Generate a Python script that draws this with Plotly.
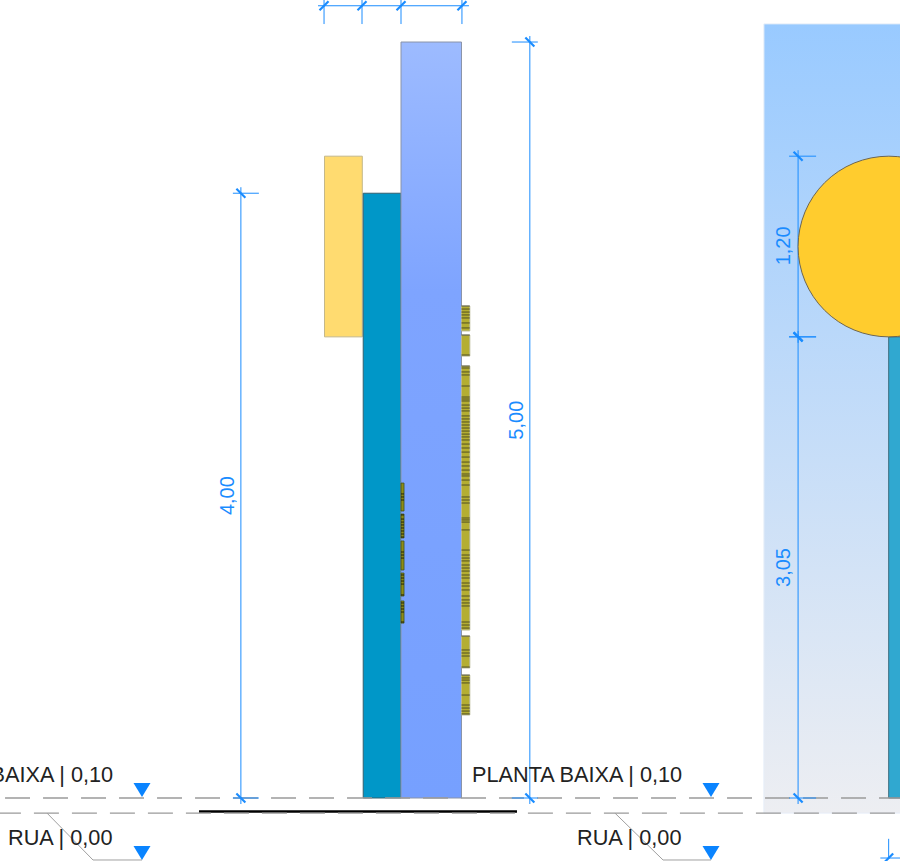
import plotly.graph_objects as go

# ---- drawing data, in metres (x from the wall face, y = level) ----
wall_x, wall_y = [0.0, 0.40], [0.10, 5.10]
slab_x, slab_y = [-0.25, 0.0], [0.10, 4.10]
sign_x, sign_y = [-0.506, -0.256], [3.15, 4.345]
panel_x, panel_y = [2.40, 3.40], [0.00, 5.22]
column_x, column_y = [3.225, 3.50], [0.10, 3.15]
disc_x, disc_y = [2.626, 3.826], [3.15, 4.345]
ground_x, ground_y = [-1.336, 0.767], [0.011, 0.011]

louvre_r_x = [0.40, 0.455]
louvre_r_segments = [(3.354, 3.189), (3.162, 3.023), (2.957, 1.211), (1.171, 0.960), (0.913, 0.649)]
louvre_r_slats = [3.354, 3.334, 3.314, 3.295, 3.275, 3.242, 3.209, 3.162, 3.030, 2.957, 2.944, 2.918, 2.898,
                  2.825, 2.752, 2.739, 2.726, 2.699, 2.679, 2.660, 2.627, 2.607, 2.587, 2.567, 2.547, 2.527,
                  2.507, 2.488, 2.468, 2.441, 2.415, 2.388, 2.355, 2.322, 2.296, 2.269, 2.243, 2.230, 2.203,
                  2.170, 2.091, 2.071, 2.051, 1.952, 1.939, 1.925, 1.873, 1.740, 1.707, 1.687, 1.668, 1.641,
                  1.621, 1.601, 1.575, 1.555, 1.522, 1.502, 1.476, 1.436, 1.410, 1.390, 1.370, 1.264, 1.244,
                  1.224, 1.171, 1.079, 1.059, 1.039, 0.966, 0.913, 0.894, 0.880, 0.861, 0.781, 0.715, 0.695,
                  0.675, 0.656]
louvre_l_x = [0.0, 0.02]
louvre_l_segments = [(2.183, 1.998), (1.978, 1.820), (1.800, 1.608), (1.588, 1.436), (1.403, 1.257)]
louvre_l_slats = [2.111, 2.091, 2.071, 1.972, 1.945, 1.925, 1.906, 1.886, 1.866, 1.846, 1.826, 1.727, 1.707,
                  1.687, 1.575, 1.555, 1.535, 1.515, 1.443, 1.390, 1.370, 1.350, 1.330, 1.264]

level_y = [0.10, 0.00]
level_dash_start = [-2.870, -2.679]
level_labels = ["PLANTA BAIXA | 0,10", "RUA | 0,00"]
label_right_x = [-1.892, 1.872]
label_y = [0.258, -0.159]
marker_x = [-1.713, 2.050]
marker_tip_y = [0.107, -0.310]
leader_x = [[-2.341, -2.037, -1.713], [1.415, 1.733, 2.050]]
leader_y = [0.0, -0.310, -0.310]

v_dims = [(-1.059, 0.10, 4.10, "4,00", -8, 18, -1.154, 2.10),
          (0.852, 0.10, 5.10, "5,00", -18, 8, 0.758, 2.60),
          (2.626, 0.10, 3.15, "3,05", -9, 18, 2.526, 1.628),
          (2.626, 3.15, 4.345, "1,20", -9, 18, 2.526, 3.755)]
h_dim_x = [-0.509, -0.258, 0.0, 0.403]
h_dim_y = 5.34
h_dim_ext_bottom = 5.219

PX = 1 / 151.2
BLUE = "#1A8CFF"
fig = go.Figure()


def box(xs, ys):
    return [xs[0], xs[1], xs[1], xs[0], xs[0]], [ys[0], ys[0], ys[1], ys[1], ys[0]]


def add_poly(xs, ys, fill=None, line=None, width=1, grad=None):
    kw = dict(x=xs, y=ys, mode="lines", fill="toself", showlegend=False, hoverinfo="skip",
              line=dict(color=line or "rgba(0,0,0,0)", width=width if line else 0))
    if grad:
        kw["fillgradient"] = grad
    else:
        kw["fillcolor"] = fill
    fig.add_trace(go.Scatter(**kw))


def add_line(xs, ys, color, width, dash=None):
    fig.add_trace(go.Scatter(x=xs, y=ys, mode="lines", showlegend=False, hoverinfo="skip",
                             line=dict(color=color, width=width, dash=dash)))


# panel + column + disc
px_, py_ = box(panel_x, panel_y)
add_poly(px_, py_, line="#E6EEF8", width=1,
         grad=dict(type="vertical", start=panel_y[1], stop=panel_y[0],
                   colorscale=[[0, "#99CAFF"], [1, "#EDEEF2"]]))
px_, py_ = box(column_x, column_y)
add_poly(px_, py_, fill="#30A8D0", line="#3F6F80", width=1)
fig.add_shape(type="circle", x0=disc_x[0], x1=disc_x[1], y0=disc_y[0], y1=disc_y[1],
              fillcolor="#FFCC2E", line=dict(color="#6E6650", width=1))

# section
px_, py_ = box(sign_x, sign_y)
add_poly(px_, py_, fill="#FFDB70", line="#C4B88A", width=1)
px_, py_ = box(slab_x, slab_y)
add_poly(px_, py_, fill="#0097C8", line="#33606F", width=1)
px_, py_ = box(wall_x, wall_y)
add_poly(px_, py_, line="#8A93A8", width=1,
         grad=dict(type="vertical", start=wall_y[1], stop=wall_y[0],
                   colorscale=[[0, "#9DBBFF"], [0.33, "#7EA4FF"], [1, "#76A0FF"]]))

# louvres
for top, bot in louvre_r_segments:
    px_, py_ = box(louvre_r_x, (bot, top))
    add_poly(px_, py_, fill="#B4AE32", line="#B8B894", width=1)
xs, ys = [], []
for s in louvre_r_slats:
    xs += [louvre_r_x[0], louvre_r_x[1], None]
    ys += [s, s, None]
add_line(xs, ys, "rgba(50,50,30,0.75)", 1)

for top, bot in louvre_l_segments:
    px_, py_ = box(louvre_l_x, (bot, top))
    add_poly(px_, py_, fill="#8E8C14", line="#40501E", width=0.8)
xs, ys = [], []
for s in louvre_l_slats:
    xs += [louvre_l_x[0], louvre_l_x[1], None]
    ys += [s, s, None]
add_line(xs, ys, "rgba(20,20,10,0.85)", 1)

# ground and levels
add_line(ground_x, ground_y, "#000000", 2.5)
for yv, xs0 in zip(level_y, level_dash_start):
    add_line([xs0, panel_x[1] + 0.2], [yv, yv], "#9A9A9A", 1.3, dash="25px,13px")
for lx in leader_x:
    add_line(lx, leader_y, "#A0A0A0", 1)
for mx in marker_x:
    for tip in marker_tip_y:
        add_poly([mx - 8.5 * PX, mx + 8.5 * PX, mx, mx - 8.5 * PX],
                 [tip + 14 * PX, tip + 14 * PX, tip, tip + 14 * PX], fill="#0A84FF")

# vertical dimensions
for x, y0, y1, txt, lo, hi, tx, ty in v_dims:
    add_line([x, x], [y0 - 6 * PX, y1 + 6 * PX], BLUE, 1)
    for yy in (y0, y1):
        add_line([x + lo * PX, x + hi * PX], [yy, yy], BLUE, 1)
        add_line([x - 4.5 * PX, x + 4.5 * PX], [yy + 4.5 * PX, yy - 4.5 * PX], BLUE, 2.2)
    fig.add_annotation(x=tx, y=ty, text=txt, textangle=-90, showarrow=False,
                       font=dict(family="Liberation Sans", size=20, color=BLUE))

# horizontal dimension
add_line([h_dim_x[0] - 6 * PX, h_dim_x[-1] + 7 * PX], [h_dim_y, h_dim_y], BLUE, 1)
for x in h_dim_x:
    add_line([x, x], [h_dim_ext_bottom, h_dim_y + 6 * PX], BLUE, 1)
    add_line([x - 4.5 * PX, x + 4.5 * PX], [h_dim_y - 4.5 * PX, h_dim_y + 4.5 * PX], BLUE, 2.2)

# corner dimension at bottom right
add_line([3.225, 3.225], [-0.30, -0.17], BLUE, 1)
add_line([3.17, 3.40], [-0.297, -0.297], BLUE, 1)
add_line([3.225 - 4.5 * PX, 3.225 + 4.5 * PX], [-0.297 - 4.5 * PX, -0.297 + 4.5 * PX], BLUE, 2.2)

# level labels
for rx in label_right_x:
    for txt, ly in zip(level_labels, label_y):
        fig.add_annotation(x=rx, y=ly, text=txt, xanchor="right", showarrow=False,
                           font=dict(family="Liberation Sans", size=21.7, color="#222222"))

fig.update_layout(width=900, height=861, margin=dict(l=0, r=0, t=0, b=0), paper_bgcolor="#FFFFFF",
                  plot_bgcolor="#FFFFFF", showlegend=False,
                  xaxis=dict(range=[-2.652, 3.300], visible=False, fixedrange=True),
                  yaxis=dict(range=[-0.3167, 5.378], visible=False, fixedrange=True))
fig.write_html("out.html", config=dict(displayModeBar=False),
               post_script="document.body.style.margin='0';")
